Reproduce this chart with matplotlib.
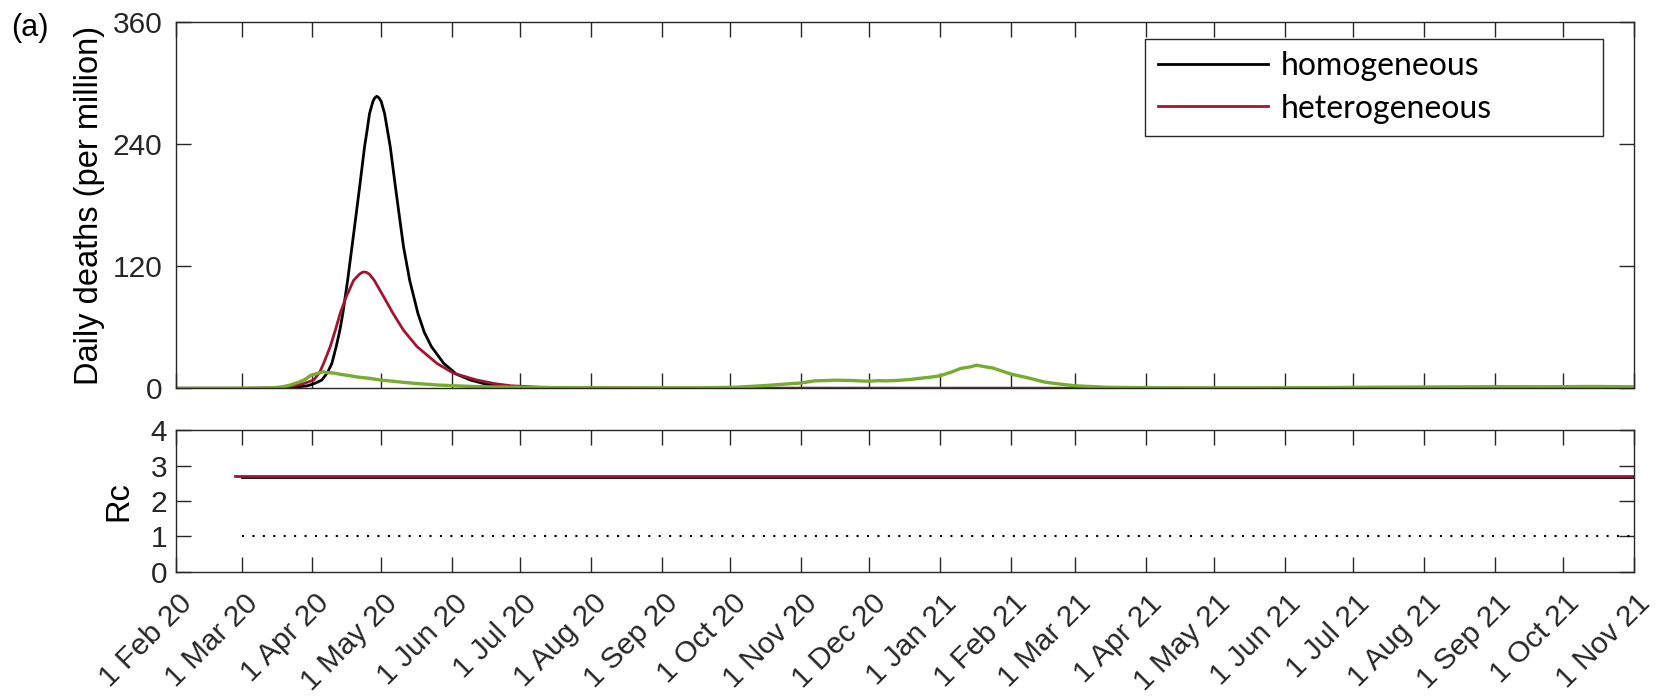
import numpy as np
import matplotlib
matplotlib.use('Agg')
import matplotlib.pyplot as plt
import matplotlib.transforms as mtransforms

# x values are days since 1 Feb 2020
start = np.datetime64('2020-02-01')
end = np.datetime64('2021-11-01')

# daily deaths per million, homogeneous model
hom_day = [0, 30, 40, 47, 52, 57.5, 60, 62, 64.1, 66.6, 68.5, 70.4, 72, 73.3, 75.4,
           77.3, 79.2, 81, 82.8, 83.9, 85, 86.5, 87.3, 88.2, 89.1, 90.1, 91.6, 92.9,
           94.1, 96, 97.9, 99.9, 102.6, 106.2, 109, 112.1, 117.5, 123, 129.2, 137,
           147, 160, 180, 220, 639]
hom_val = [0, 0, 0.1, 0.5, 1.2, 2.3, 4, 5.8, 8.1, 15.5, 24.5, 41, 57, 73.6, 106,
           139, 172, 204, 237, 253, 270, 282, 285.5, 287, 285.5, 282, 270, 253,
           237, 204, 172, 139, 106, 73.6, 55, 41, 24.5, 14, 8.1, 3.5,
           1.2, 0.4, 0.1, 0, 0]

# daily deaths per million, heterogeneous model
het_day = [0, 30, 40, 47, 52, 56, 60.5, 63, 64.9, 67.8, 70, 72.2, 74.8, 78, 80.5,
           81.6, 82.7, 83.8, 85, 87.1, 91.2, 95.2, 99.9, 105.8, 114.5, 121.9, 132.1,
           140, 147, 160, 180, 220, 500, 560, 639]
het_val = [0, 0, 0.3, 1, 2.5, 4.5, 8.1, 15, 24.5, 41, 57, 74, 90, 106, 112,
           113.7, 114.4, 113.8, 112, 106, 90, 74, 57, 41, 24.5, 14.7, 8.1,
           4.5, 2.5, 1, 0.4, 0.1, 0, 0.3, 0.5]

# reported daily deaths per million
obs_day = [0, 20, 35, 40, 44, 47, 50, 52, 54.6, 57, 59, 61, 63, 64.8, 66, 68, 70,
           72, 76, 80, 85, 90, 95, 100, 105, 110, 115, 121, 130, 140, 151, 165,
           180, 200, 230, 245, 257, 265, 274, 280, 285, 289, 293, 296, 300, 304,
           308, 311, 316, 322, 327, 331, 335, 340, 344, 348, 351, 355, 358, 362,
           366, 373, 381, 388, 394, 408, 430, 470, 500, 520, 550, 580, 600, 620, 639]
obs_val = [0, 0, 0.1, 0.3, 0.8, 1.5, 3, 4.5, 6.5, 9, 12.4, 13.8, 15.2, 16.3, 15.5,
           15.2, 14.8, 13.8, 12.5, 11, 9.8, 8.1, 7, 5.8, 4.8, 4, 3.2, 2.6, 1.8,
           1.3, 1, 0.7, 0.5, 0.4, 0.5, 1, 2.5, 3.8, 5.2, 7.3, 7.6, 8, 7.8, 7.7, 7.2,
           7, 7.5, 7.3, 7.7, 8.7, 10, 11, 12.3, 16, 19.5, 21, 22.7, 21, 20, 17,
           14, 10.5, 6, 4, 2.5, 1, 0.5, 0.4, 0.6, 1, 1.3, 1.6, 1.5, 1.8, 1.5]

# control reproduction number
rc_hom_day = [29, 639]
rc_hom_val = [2.68, 2.68]
rc_het_day = [26, 639]
rc_het_val = [2.71, 2.71]
threshold_day = [29, 639]
threshold_val = [1, 1]

black = 'k'
red = '#A2142F'
green = '#77AC30'
axcol = '#262626'

plt.rcParams['font.family'] = ['Liberation Sans', 'DejaVu Sans']
plt.rcParams['font.size'] = 21.5

months = np.arange('2020-02', '2021-12', dtype='datetime64[M]')
tick_days = (months.astype('datetime64[D]') - start).astype(int)
tick_labels = ['1 ' + m.astype(object).strftime('%b %y') for m in months]
x_max = int((end - start).astype(int))

fig = plt.figure(figsize=(16.62, 6.99), dpi=100)
ax1 = fig.add_axes([0.1056, 0.4445, 0.8776, 0.524])
ax2 = fig.add_axes([0.1056, 0.1817, 0.8776, 0.2031])

l_hom, = ax1.plot(hom_day, hom_val, color=black, lw=2, label='homogeneous')
l_het, = ax1.plot(het_day, het_val, color=red, lw=2, label='heterogeneous')
ax1.plot(obs_day, obs_val, color=green, lw=2.4)
ax1.set_ylim(0, 360)
ax1.set_yticks([0, 120, 240, 360])
ax1.set_ylabel('Daily deaths (per million)', fontsize=23.5)
ax1.yaxis.set_label_coords(-0.048, 0.5)

ax2.plot(rc_hom_day, rc_hom_val, color=black, lw=2)
ax2.plot(rc_het_day, rc_het_val, color=red, lw=2)
ax2.plot(threshold_day, threshold_val, color=black, lw=1.5, ls=(0, (1, 4)))
ax2.set_ylim(0, 4)
ax2.set_yticks([0, 1, 2, 3, 4])
ax2.set_ylabel('Rc', fontsize=23.5)
ax2.yaxis.set_label_coords(-0.028, 0.5)

for ax in (ax1, ax2):
    ax.set_xlim(0, x_max)
    ax.set_xticks(tick_days)
    ax.tick_params(direction='in', length=11, width=1, colors=axcol,
                   top=True, right=True, labelsize=21.5)
    for s in ax.spines.values():
        s.set_color(axcol)
        s.set_linewidth(1)
ax1.tick_params(axis='y', pad=9.5)
ax2.tick_params(axis='y', pad=6)

ax1.set_xticklabels([])
ax2.set_xticklabels(tick_labels)
ax2.tick_params(axis='x', pad=19.5)
shift = mtransforms.ScaledTranslation(0.12, 0, fig.dpi_scale_trans)
for lab in ax2.get_xticklabels():
    lab.set_rotation(45)
    lab.set_ha('right')
    lab.set_va('center')
    lab.set_rotation_mode('anchor')
    lab.set_transform(lab.get_transform() + shift)

leg = ax1.legend(handles=[l_hom, l_het], loc='upper left',
                 bbox_to_anchor=(0.6645, 0.6955, 0.3139, 0.2592), mode='expand',
                 prop={'family': 'Lato', 'size': 23}, handlelength=3.47,
                 handletextpad=0.38, labelspacing=0.38, borderpad=0.4,
                 borderaxespad=0, fancybox=False, framealpha=1,
                 edgecolor=axcol)
leg.get_frame().set_linewidth(1)

fig.text(0.018, 0.96, '(a)', ha='center', va='center', fontsize=22)

fig.savefig('out.png', dpi=100)
